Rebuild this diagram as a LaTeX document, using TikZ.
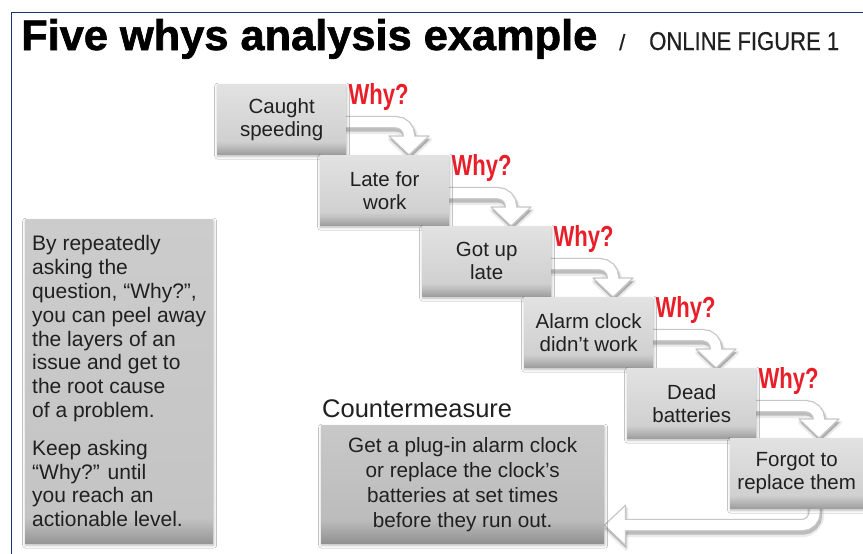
\documentclass[tikz,border=0pt]{standalone}
\usepackage{fontspec}
\setmainfont{Liberation Sans}
\newfontfamily\titlefont{Liberation Sans}[BoldFeatures={FakeBold=1.5}]
\newfontfamily\headfont{Liberation Sans}[FakeBold=0.6]
\usetikzlibrary{calc,shadows.blur}
\pgfdeclarelayer{background}
\pgfsetlayers{background,main}

\definecolor{framebl}{RGB}{28,52,118}
\definecolor{whyred}{RGB}{232,30,40}
\definecolor{ink}{RGB}{32,32,32}
\definecolor{stepTop}{RGB}{226,226,226}
\definecolor{stepMid}{RGB}{208,208,208}
\definecolor{stepBot}{RGB}{158,158,158}
\definecolor{noteTop}{RGB}{204,204,204}
\definecolor{noteMid}{RGB}{196,196,196}
\definecolor{noteBot}{RGB}{150,150,150}
\definecolor{cmTop}{RGB}{200,200,200}
\definecolor{cmMid}{RGB}{188,188,188}
\definecolor{cmBot}{RGB}{145,145,145}

% vertical shadings: 25bp = bottom edge, 75bp = top edge
\pgfdeclareverticalshading{stepshade}{100bp}{color(0bp)=(stepBot); color(25bp)=(stepBot); color(34bp)=(stepMid); color(75bp)=(stepTop); color(100bp)=(stepTop)}
\pgfdeclareverticalshading{noteshade}{100bp}{color(0bp)=(noteBot); color(25bp)=(noteBot); color(29bp)=(noteMid); color(75bp)=(noteTop); color(100bp)=(noteTop)}
\pgfdeclareverticalshading{cmshade}{100bp}{color(0bp)=(cmBot); color(25bp)=(cmBot); color(35bp)=(cmMid); color(75bp)=(cmTop); color(100bp)=(cmTop)}

\tikzset{
  boxshadow/.style={blur shadow={shadow xshift=0.5pt, shadow yshift=-2pt, shadow blur radius=3pt, shadow opacity=28}},
  stepbox/.style={rectangle, inner sep=0pt, anchor=north west, minimum width=129pt, minimum height=70pt,
    shading=stepshade, boxshadow, align=center, text=ink, font=\fontsize{20.5}{23}\selectfont},
  notebox/.style={rectangle, inner sep=0pt, anchor=north west, minimum width=188pt, minimum height=324pt,
    shading=noteshade, boxshadow, align=left, text=ink, font=\fontsize{21}{23.8}\selectfont},
  cmbox/.style={rectangle, inner sep=0pt, anchor=north west, minimum width=283pt, minimum height=118pt,
    shading=cmshade, boxshadow, align=center, text=ink, font=\fontsize{20.7}{25}\selectfont},
  whylabel/.style={anchor=base west, inner sep=0pt, text=whyred},
  bandhaze/.style={draw=black, opacity=0.08, line width=17pt, rounded corners=14pt},
  bandshadow/.style={draw=black, opacity=0.2, line width=13pt, rounded corners=13pt},
  bandedge/.style={draw=black!22, line width=12.5pt, rounded corners=13pt},
  bandbody/.style={draw=white, line width=10pt, rounded corners=13pt},
  headhaze/.style={draw=black, line width=4pt, line join=round, fill=black, opacity=0.08},
  headshadow/.style={fill=black, opacity=0.2},
  headedge/.style={draw=black!22, line width=1.2pt, line join=round, fill=white},
}

\newcommand\whytext{\resizebox{60pt}{21pt}{\bfseries Why?}}

\begin{document}
\begin{tikzpicture}[x=1pt, y=-1pt]
\useasboundingbox (0,0) rectangle (863,554);

% frame
\draw[framebl, line width=1.6pt] (870,12.5) -- (11.5,12.5) -- (11.5,560);

% heading
\node[anchor=base west, inner sep=0pt, text=black] (title) at (21,50)
  {\resizebox{576pt}{31pt}{\titlefont\bfseries Five whys analysis example}};
\node[anchor=base west, inner sep=0pt, text=ink] (slash) at (619,50)
  {\fontsize{22}{22}\selectfont\headfont /};
\node[anchor=base west, inner sep=0pt, text=ink] (online) at (649,50)
  {\resizebox{190pt}{18pt}{\headfont ONLINE FIGURE 1}};

% chain of causes
\node[stepbox] (b0) at (217,84)  {Caught\\speeding};
\node[stepbox] (b1) at (320,155) {Late for\\work};
\node[stepbox] (b2) at (422,226) {Got up\\late};
\node[stepbox] (b3) at (524,297) {Alarm clock\\didn’t work};
\node[stepbox] (b4) at (627,368) {Dead\\batteries};
\node[stepbox, minimum width=133pt] (b5) at (730,438) {Forgot to\\replace them};

\foreach \i in {0,...,4}{
  \node[whylabel] (w\i) at ($(b\i.north east)+(2,20)$) {\whytext};
}

% explanation panel
\node[notebox] (note) at (25,219) {By repeatedly\\asking the\\question, “Why?”,\\you can peel away\\the layers of an\\issue and get to\\the root cause\\of a problem.\\[14pt]Keep asking\\“Why?” until\\you reach an\\actionable level.};

% countermeasure
\node[anchor=base west, inner sep=0pt, text=ink, font=\fontsize{25.5}{28}\selectfont] (cmlabel) at (322,417) {Countermeasure};
\node[cmbox] (cm) at (321,425) {Get a plug-in alarm clock\\or replace the clock’s\\batteries at set times\\before they run out.};

% white "why" arrows behind the boxes
\begin{pgfonlayer}{background}
\fill[white] (0,0) rectangle (863,554);
\foreach \i/\j in {0/1,1/2,2/3,3/4,4/5}{
  \coordinate (s\i) at ($(b\i.east)+(-3,3)$);
  \coordinate (h\i) at ($(b\j.north west)+(89,-19)$);
  \coordinate (t\i) at ($(b\j.north west)+(89,0)$);
  \draw[bandhaze] ([shift={(1,3.5)}]s\i) -| ([shift={(1,3.5)}]h\i);
  \draw[headhaze] ([shift={(-19,3.5)}]h\i) -- ([shift={(21,3.5)}]h\i) -- ([shift={(1,3.5)}]t\i) -- cycle;
  \draw[bandshadow] ([shift={(1,3)}]s\i) -| ([shift={(1,3)}]h\i);
  \fill[headshadow] ([shift={(-19,3)}]h\i) -- ([shift={(21,3)}]h\i) -- ([shift={(1,3)}]t\i) -- cycle;
  \draw[bandedge] (s\i) -| (h\i);
  \draw[headedge] ([shift={(-20,0)}]h\i) -- ([shift={(20,0)}]h\i) -- (t\i) -- cycle;
  \draw[bandbody] (s\i) -| ([shift={(0,4)}]h\i);
}
\coordinate (s5) at ($(b5.south)+(18,-3)$);
\coordinate (h5) at ($(cm.east)+(21,41)$);
\coordinate (t5) at ($(cm.east)+(0,41)$);
\draw[bandhaze] ([shift={(1,3.5)}]s5) |- ([shift={(1,3.5)}]h5);
\draw[headhaze] ([shift={(1,-16.5)}]h5) -- ([shift={(1,23.5)}]h5) -- ([shift={(1,3.5)}]t5) -- cycle;
\draw[bandshadow] ([shift={(1,3)}]s5) |- ([shift={(1,3)}]h5);
\fill[headshadow] ([shift={(1,-17)}]h5) -- ([shift={(1,23)}]h5) -- ([shift={(1,3)}]t5) -- cycle;
\draw[bandedge] (s5) |- (h5);
\draw[headedge] ([shift={(0,-20)}]h5) -- ([shift={(0,20)}]h5) -- (t5) -- cycle;
\draw[bandbody] (s5) |- ([shift={(-4,0)}]h5);
\end{pgfonlayer}
\end{tikzpicture}
\end{document}
